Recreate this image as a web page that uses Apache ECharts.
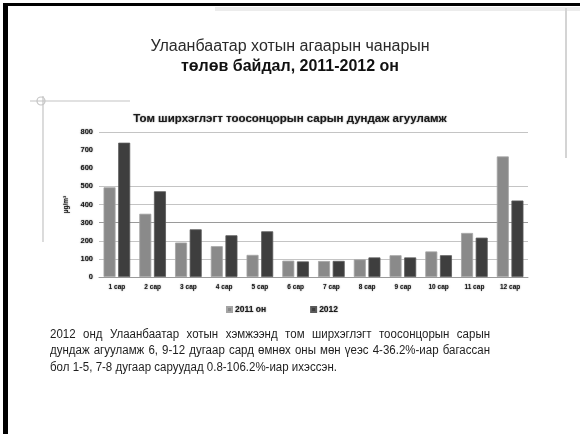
<!DOCTYPE html>
<html>
<head>
<meta charset="utf-8">
<script src="https://cdn.jsdelivr.net/npm/echarts@6/dist/echarts.min.js"></script>
<style>
  html, body { margin: 0; padding: 0; background: #fff; }
  #chart { width: 580px; height: 434px; }
</style>
</head>
<body>
<div id="chart"></div>
<script>
// Monthly average PM10 concentration, Ulaanbaatar (µg/m³)
const months = ['1 сар', '2 сар', '3 сар', '4 сар', '5 сар', '6 сар',
                '7 сар', '8 сар', '9 сар', '10 сар', '11 сар', '12 сар'];
const seriesNames = ['2011 он', '2012'];
const values2011 = [495, 349, 190, 170, 122, 90, 88, 97, 120, 141, 243, 665];
const values2012 = [741, 473, 263, 230, 252, 86, 88.7, 108, 108, 120, 217, 422];
const yTicks = [0, 100, 200, 300, 400, 500, 600, 700, 800];

const slideTitle1 = 'Улаанбаатар хотын агаарын чанарын';
const slideTitle2 = 'төлөв байдал, 2011-2012 он';
const chartTitle = 'Том ширхэглэгт тоосонцорын сарын дундаж агууламж';
const unitLabel = 'µg/m³';
const bodyLines = [
  '2012 онд Улаанбаатар хотын хэмжээнд том ширхэглэгт тоосонцорын сарын',
  'дундаж агууламж 6, 9-12 дугаар сард өмнөх оны мөн үеэс 4-36.2%-иар багассан',
  'бол 1-5, 7-8 дугаар саруудад 0.8-106.2%-иар ихэссэн.'
];

const chart = echarts.init(document.getElementById('chart'), null, { renderer: 'canvas' });

// Justified paragraph: slightly condensed words spread to fill the column
const bodyFont = '12.5px "Liberation Sans", Arial, sans-serif';
const squeeze = 0.92;
const measureCtx = document.createElement('canvas').getContext('2d');
measureCtx.font = bodyFont;
const colLeft = 50, colWidth = 440, lineTop = 328, lineStep = 16.5;
const bodyGraphics = [];
bodyLines.forEach((line, li) => {
  const y = lineTop + li * lineStep;
  const last = li === bodyLines.length - 1;
  const words = line.split(' ');
  const widths = words.map(w => measureCtx.measureText(w).width * squeeze);
  const spaceW = measureCtx.measureText(' ').width * squeeze;
  const wordsW = widths.reduce((s, w) => s + w, 0);
  const gap = last ? spaceW : (colWidth - wordsW) / (words.length - 1);
  let x = colLeft;
  words.forEach((w, i) => {
    bodyGraphics.push({ type: 'text', x: x, y: y, scaleX: squeeze,
      style: { text: w, font: bodyFont, fill: '#1e1e1e' } });
    x += widths[i] + gap;
  });
});

const splitColors = yTicks.map(v => v === 300 ? '#9a9a9a' : (v === 600 || v === 700 ? 'rgba(0,0,0,0)' : '#c4c4c4'));
const blurText = { textShadowColor: 'rgba(0,0,0,0.55)', textShadowBlur: 1.5 };

const option = {
  backgroundColor: '#ffffff',
  animation: false,
  title: {
    text: chartTitle,
    left: 'center',
    top: 108,
    textStyle: Object.assign({ fontSize: 11.5, fontWeight: 'bold', color: '#1a1a1a',
      fontFamily: 'Liberation Sans, Arial, sans-serif' }, blurText)
  },
  legend: {
    data: seriesNames,
    top: 300,
    left: 221,
    itemGap: 44,
    itemWidth: 5,
    itemHeight: 5,
    icon: 'rect',
    textStyle: Object.assign({ fontSize: 8.5, fontWeight: 'bold', color: '#1a1a1a',
      fontFamily: 'Liberation Sans, Arial, sans-serif', padding: [0, 0, 0, -2] }, blurText)
  },
  grid: { left: 99, right: 52, top: 132, bottom: 157 },
  xAxis: {
    type: 'category',
    data: months,
    axisLine: { lineStyle: { color: '#9a9a9a', width: 1 } },
    axisTick: { show: false },
    axisLabel: Object.assign({ fontSize: 6.5, fontWeight: 'bold', color: '#1a1a1a', margin: 7,
      interval: 0, fontFamily: 'Liberation Sans, Arial, sans-serif' }, blurText)
  },
  yAxis: {
    type: 'value',
    min: 0,
    max: 800,
    interval: 100,
    name: unitLabel,
    nameLocation: 'middle',
    nameRotate: 90,
    nameGap: 20,
    nameTextStyle: Object.assign({ fontSize: 6.5, fontWeight: 'bold', color: '#1a1a1a' }, blurText),
    axisLine: { show: false },
    axisTick: { show: false },
    axisLabel: Object.assign({ fontSize: 7.5, fontWeight: 'bold', color: '#1a1a1a', margin: 6,
      fontFamily: 'Liberation Sans, Arial, sans-serif' }, blurText),
    splitLine: { lineStyle: { color: splitColors, width: 1 } }
  },
  series: [
    { name: seriesNames[0], type: 'bar', data: values2011, barWidth: 12, barGap: '22%',
      itemStyle: { color: '#8a8a8a', borderColor: '#a4a4a4', borderWidth: 0.8 } },
    { name: seriesNames[1], type: 'bar', data: values2012, barWidth: 12,
      itemStyle: { color: '#3e3e3e', borderColor: '#5a5a5a', borderWidth: 0.8 } }
  ],
  graphic: [
    // slide frame
    { type: 'rect', shape: { x: 3, y: 3, width: 577, height: 3 }, style: { fill: '#000' }, silent: true },
    { type: 'rect', shape: { x: 3, y: 3, width: 5, height: 431 }, style: { fill: '#000' }, silent: true },
    { type: 'rect', shape: { x: 215, y: 7, width: 365, height: 4 }, style: { fill: '#ececec' }, silent: true },
    { type: 'line', shape: { x1: 566, y1: 8, x2: 566, y2: 158 }, style: { stroke: '#d4d4d4', lineWidth: 2 }, silent: true },
    // slide ornament
    { type: 'line', shape: { x1: 30, y1: 101, x2: 130, y2: 101 }, style: { stroke: '#c4c4c4', lineWidth: 1.2 }, silent: true },
    { type: 'line', shape: { x1: 43, y1: 96, x2: 43, y2: 242 }, style: { stroke: '#c4c4c4', lineWidth: 1.2 }, silent: true },
    { type: 'circle', shape: { cx: 41, cy: 101, r: 4 }, style: { fill: 'none', stroke: '#c4c4c4', lineWidth: 1.2 }, silent: true },
    // slide heading
    { type: 'text', left: 'center', top: 39,
      style: { text: slideTitle1, font: '16px "Liberation Sans", Arial, sans-serif', fill: '#2a2a2a' } },
    { type: 'text', left: 'center', top: 59,
      style: { text: slideTitle2, font: 'bold 16px "Liberation Sans", Arial, sans-serif', fill: '#111' } }
  ].concat(bodyGraphics)
};

chart.setOption(option);
</script>
</body>
</html>
